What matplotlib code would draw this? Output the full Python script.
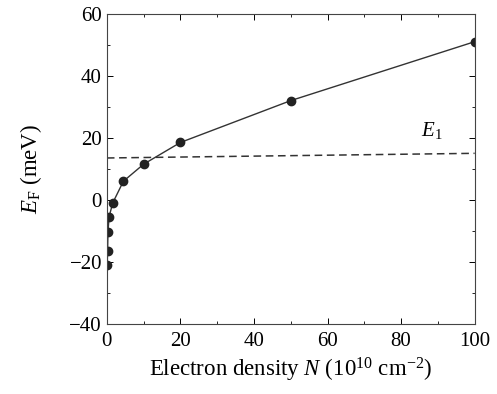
import matplotlib
matplotlib.use("Agg")
import matplotlib.pyplot as plt
from matplotlib.ticker import MultipleLocator

plt.rcParams["font.family"] = ["Liberation Serif", "DejaVu Serif"]
plt.rcParams["mathtext.fontset"] = "custom"
plt.rcParams["mathtext.rm"] = "Liberation Serif"
plt.rcParams["mathtext.it"] = "Liberation Serif:italic"

# electron density (10^10 cm^-2) and Fermi energy (meV)
density = [0.1, 0.2, 0.3, 0.6, 1.6, 4.5, 10, 20, 50, 100]
fermi_energy = [-21, -16.5, -10.5, -5.5, -1, 6, 11.5, 18.5, 32, 51]

# E1 subband level (dashed line ends)
e1_x = [0, 100]
e1_y = [13.5, 15]

fig = plt.figure(figsize=(4.97, 3.94), dpi=100)
ax = fig.add_axes([0.215, 0.178, 0.74, 0.787])

ax.plot(e1_x, e1_y, color="#333333", lw=1.1, ls=(0, (5, 3)))
ax.plot(density, fermi_energy, color="#333333", lw=1.0, marker="o",
        markersize=6, markerfacecolor="#222222", markeredgecolor="#222222")
ax.text(85.5, 20.5, r"$E_1$", fontsize=15)

ax.set_xlim(0, 100)
ax.set_ylim(-40, 60)
ax.xaxis.set_major_locator(MultipleLocator(20))
ax.xaxis.set_minor_locator(MultipleLocator(10))
ax.yaxis.set_major_locator(MultipleLocator(20))
ax.yaxis.set_minor_locator(MultipleLocator(10))
ax.tick_params(which="both", direction="in", top=True, right=True, labelsize=15)
ax.tick_params(which="major", length=4, width=0.7)
ax.tick_params(which="minor", length=2, width=0.6)
ax.tick_params(axis="x", pad=6)
for s in ax.spines.values():
    s.set_linewidth(0.8)
    s.set_color("#444444")

ax.set_xlabel(r"Electron density $N$ (10$^{10}$ cm$^{-2}$)", fontsize=16.5, labelpad=3)
ax.set_ylabel(r"$E_{\rm F}$ (meV)", fontsize=16.5, labelpad=18)

fig.savefig("out.png", dpi=100)
